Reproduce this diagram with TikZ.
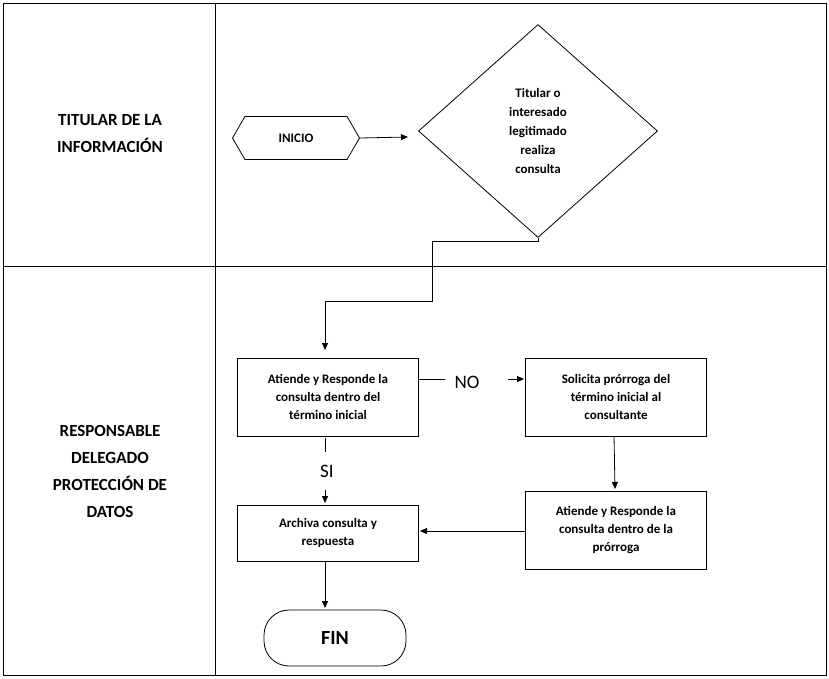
\documentclass[tikz,border=0pt]{standalone}
\usepackage{fontspec}
\setmainfont{Carlito}
\usetikzlibrary{shapes.geometric,shapes.symbols,arrows.meta}
\begin{document}
\begin{tikzpicture}[x=1pt,y=-1pt,
  box/.style={draw,thick,minimum width=181pt,minimum height=78pt,align=center,font=\bfseries\fontsize{13}{18}\selectfont},
  lane/.style={align=center,font=\bfseries\fontsize{17}{27}\selectfont},
  arr/.style={thick,-{Triangle[length=7pt,width=6pt]}},
  ln/.style={thin}]
\useasboundingbox (0,0) rectangle (829,678);
\draw[ln] (3,3) rectangle (826,675);
\draw[ln] (3,266) -- (826,266);
\draw[ln] (215,3) -- (215,675);
\node[lane] (l1) at (110,134) {TITULAR DE LA\\INFORMACIÓN};
\node[lane] (l2) at (110,471) {RESPONSABLE\\DELEGADO\\PROTECCIÓN DE\\DATOS};
\node[draw,thick,signal,signal to=west and east,signal pointer angle=120,minimum width=127pt,minimum height=43pt,font=\bfseries\fontsize{13}{15}\selectfont] (ini) at (296,138) {INICIO};
\node[draw,thick,diamond,minimum width=239pt,minimum height=213pt,align=center,inner sep=0pt,font=\bfseries\fontsize{13}{19}\selectfont] (dia) at (538,131) {Titular o\\interesado\\legitimado\\realiza\\consulta};
\coordinate (dl) at (408,137);
\draw[arr] (ini.east) -- (dl);
\node[box] (b1) at (328,397) {Atiende y Responde la\\consulta dentro del\\término inicial};
\node[box] (b2) at (616,397) {Solicita prórroga del\\término inicial al\\consultante};
\node[box] (b3) at (616,530) {Atiende y Responde la\\consulta dentro de la\\prórroga};
\node[box,minimum height=56pt] (b4) at (328,533) {Archiva consulta y\\respuesta};
\node[draw,thick,rounded corners=25pt,minimum width=142pt,minimum height=56pt,font=\bfseries\fontsize{20}{24}\selectfont] (fin) at (335,638) {FIN};
\coordinate (c0) at (538,241);
\coordinate (c1) at (432,241);
\coordinate (c2) at (432,301);
\coordinate (c3) at (325,301);
\coordinate (c4) at (325,350);
\draw[arr] (dia.south) -- (c0) -- (c1) -- (c2) -- (c3) -- (c4);
\node[font=\fontsize{19}{22}\selectfont] (no) at (467,382) {NO};
\coordinate (n0) at (419,379);
\coordinate (n1) at (445,379);
\coordinate (n2) at (508,379);
\coordinate (n3) at (524,379);
\draw[thick] (n0) -- (n1);
\draw[arr] (n2) -- (n3);
\node[font=\fontsize{19}{22}\selectfont] (si) at (327,471) {SI};
\coordinate (s0) at (325,438);
\coordinate (s1) at (325,452);
\coordinate (s2) at (325,490);
\coordinate (s3) at (325,503);
\draw[thick] (s0) -- (s1);
\draw[arr] (s2) -- (s3);
\coordinate (d0) at (614,436);
\coordinate (d1) at (615,489);
\draw[arr] (d0) -- (d1);
\coordinate (e0) at (526,531);
\coordinate (e1) at (420,531);
\draw[arr] (e0) -- (e1);
\coordinate (f0) at (325,561);
\coordinate (f1) at (325,608);
\draw[arr] (f0) -- (f1);
\end{tikzpicture}
\end{document}
